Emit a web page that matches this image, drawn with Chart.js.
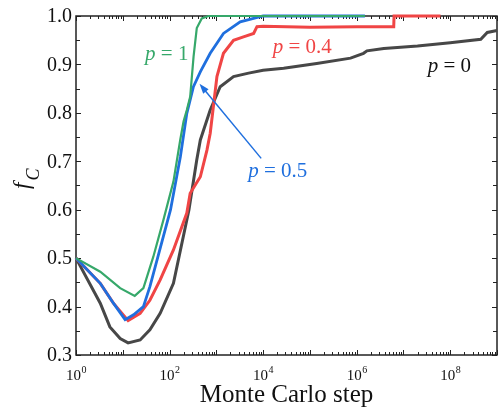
<!DOCTYPE html>
<html>
<head>
<meta charset="utf-8">
<script src="https://cdn.jsdelivr.net/npm/chart.js@4.4.1/dist/chart.umd.min.js"></script>
<style>
  body { margin: 0; background: #fff; }
  #wrap { width: 499px; height: 409px; }
</style>
</head>
<body>
<div id="wrap"><canvas id="fc-chart"></canvas></div>
<script>
// values (x = Monte Carlo step, y = f_C)
const greenSteps = [1, 3.3, 8.8, 18, 27.6, 45, 74, 121, 169, 199, 234, 276, 326, 382, 488, 680, 1.5e6];
const greenFc    = [0.5, 0.472, 0.438, 0.422, 0.438, 0.503, 0.579, 0.658, 0.744, 0.782, 0.806, 0.833, 0.916, 0.975, 0.995, 1.0, 1.0];

const blueSteps = [1, 3.3, 6.3, 11.2, 17, 27.6, 38, 105, 170, 234, 324, 457, 740, 1420, 3240, 1e4, 1.5e6];
const blueFc    = [0.5, 0.448, 0.407, 0.373, 0.383, 0.40, 0.441, 0.60, 0.709, 0.799, 0.854, 0.885, 0.923, 0.964, 0.988, 1.0, 1.0];

const redSteps = [1, 3.3, 6.3, 13, 23.5, 38, 63, 121, 234, 276, 455, 630, 740, 1030, 1420, 2330, 3800, 6270, 7400, 1e4, 1e5, 1e6, 6.2e6, 6.3e6, 6.2e7];
const redFc    = [0.5, 0.448, 0.407, 0.371, 0.386, 0.413, 0.455, 0.517, 0.593, 0.634, 0.668, 0.723, 0.758, 0.875, 0.923, 0.95, 0.957, 0.964, 0.978, 0.979, 0.977, 0.978, 0.978, 1.0, 1.0];

const blackSteps = [1, 3.3, 5.3, 8.8, 13, 23.5, 38, 63, 121, 260, 382, 455, 740, 1210, 2330, 4900, 1e4, 2.75e4, 1.4e5, 7.4e5, 1.4e6, 1.66e6, 3.8e6, 2e7, 1e8, 4.5e8, 6.2e8, 1e9];
const blackFc    = [0.5, 0.407, 0.358, 0.334, 0.325, 0.331, 0.352, 0.386, 0.448, 0.6, 0.703, 0.744, 0.806, 0.854, 0.875, 0.882, 0.888, 0.892, 0.902, 0.913, 0.923, 0.928, 0.933, 0.938, 0.945, 0.952, 0.966, 0.97];

const xLabelExponents = [0, 2, 4, 6, 8];
const yTickValues = [0.3, 0.4, 0.5, 0.6, 0.7, 0.8, 0.9, 1.0];

function pts(xs, ys) {
  return xs.map((v, i) => ({ x: v, y: ys[i] }));
}

const SERIF = '"Liberation Serif", "Times New Roman", serif';

function pLabel(ctx, x, y, rest, color) {
  ctx.fillStyle = color;
  ctx.textAlign = 'left';
  ctx.textBaseline = 'alphabetic';
  ctx.font = 'italic 21px ' + SERIF;
  ctx.fillText('p', x, y);
  const w = ctx.measureText('p').width;
  ctx.font = '21px ' + SERIF;
  ctx.fillText(' = ' + rest, x + w, y);
}

const axesPlugin = {
  id: 'axesPlugin',
  // frame and inward ticks go under the curves
  beforeDatasetsDraw(chart) {
    const { ctx, chartArea: a, scales: { x, y } } = chart;
    ctx.save();
    ctx.strokeStyle = '#222';
    ctx.lineWidth = 1.5;
    ctx.strokeRect(a.left, a.top, a.right - a.left, a.bottom - a.top);

    ctx.lineWidth = 1;
    ctx.beginPath();
    for (let e = 0; e <= 9; e++) {
      for (let m = 1; m <= 9; m++) {
        const v = m * Math.pow(10, e);
        if (v > x.max * 1.0001) break;
        const px = Math.round(x.getPixelForValue(v)) + 0.5;
        const len = m === 1 ? 5 : 3;
        ctx.moveTo(px, a.bottom); ctx.lineTo(px, a.bottom - len);
        ctx.moveTo(px, a.top); ctx.lineTo(px, a.top + len);
      }
    }
    for (let v = 0.3; v <= 1.0001; v += 0.05) {
      const py = Math.round(y.getPixelForValue(v)) + 0.5;
      const major = Math.abs(v * 10 - Math.round(v * 10)) < 1e-6;
      const len = major ? 5 : 4;
      ctx.moveTo(a.left, py); ctx.lineTo(a.left + len, py);
      ctx.moveTo(a.right, py); ctx.lineTo(a.right - len, py);
    }
    ctx.stroke();
    ctx.restore();
  },
  afterDatasetsDraw(chart) {
    const { ctx, chartArea: a, scales: { x, y } } = chart;
    ctx.save();

    // y tick labels
    ctx.fillStyle = '#111';
    ctx.font = '20px ' + SERIF;
    ctx.textAlign = 'right';
    ctx.textBaseline = 'middle';
    yTickValues.forEach(v => ctx.fillText(v.toFixed(1), a.left - 4, y.getPixelForValue(v) + 1));

    // x tick labels 10^n
    ctx.textBaseline = 'alphabetic';
    ctx.textAlign = 'left';
    xLabelExponents.forEach(n => {
      const px = x.getPixelForValue(Math.pow(10, n));
      ctx.font = '15px ' + SERIF;
      const wb = ctx.measureText('10').width;
      ctx.font = '10px ' + SERIF;
      const ws = ctx.measureText(String(n)).width;
      const x0 = px - (wb + ws) / 2;
      ctx.font = '15px ' + SERIF;
      ctx.fillText('10', x0, a.bottom + 25);
      ctx.font = '10px ' + SERIF;
      ctx.fillText(String(n), x0 + wb + 0.5, a.bottom + 18);
    });

    // axis titles
    ctx.font = '25px ' + SERIF;
    ctx.textAlign = 'center';
    ctx.fillText('Monte Carlo step', (a.left + a.right) / 2, a.bottom + 47);

    ctx.save();
    ctx.translate(29, 189);
    ctx.rotate(-Math.PI / 2);
    ctx.textAlign = 'left';
    ctx.font = 'italic 23px ' + SERIF;
    ctx.fillText('f', 0, 0);
    const fw = ctx.measureText('f').width;
    ctx.font = 'italic 18px ' + SERIF;
    ctx.fillText('C', fw + 2, 10);
    ctx.restore();

    // curve labels, anchored in data coordinates
    pLabel(ctx, x.getPixelForValue(30), y.getPixelForValue(0.909), '1', '#36a86a');
    pLabel(ctx, x.getPixelForValue(1.6e4), y.getPixelForValue(0.924), '0.4', '#f04545');
    pLabel(ctx, x.getPixelForValue(3.3e7), y.getPixelForValue(0.885), '0', '#111');
    pLabel(ctx, x.getPixelForValue(4800), y.getPixelForValue(0.668), '0.5', '#1f6fde');

    // arrow from the p = 0.5 label to its curve
    const tx = x.getPixelForValue(9100), ty = y.getPixelForValue(0.706);
    const hx = x.getPixelForValue(437), hy = y.getPixelForValue(0.860);
    const ang = Math.atan2(hy - ty, hx - tx);
    ctx.strokeStyle = '#1f6fde';
    ctx.fillStyle = '#1f6fde';
    ctx.lineWidth = 1.5;
    ctx.beginPath();
    ctx.moveTo(tx, ty);
    ctx.lineTo(hx - 7 * Math.cos(ang), hy - 7 * Math.sin(ang));
    ctx.stroke();
    ctx.beginPath();
    ctx.moveTo(hx, hy);
    ctx.lineTo(hx - 10 * Math.cos(ang) + 3.5 * Math.sin(ang), hy - 10 * Math.sin(ang) - 3.5 * Math.cos(ang));
    ctx.lineTo(hx - 10 * Math.cos(ang) - 3.5 * Math.sin(ang), hy - 10 * Math.sin(ang) + 3.5 * Math.cos(ang));
    ctx.closePath();
    ctx.fill();
    ctx.restore();
  }
};

new Chart(document.getElementById('fc-chart'), {
  type: 'scatter',
  data: {
    datasets: [
      { label: 'p = 1', data: pts(greenSteps, greenFc), borderColor: '#36a86a', borderWidth: 2.2, order: 0 },
      { label: 'p = 0.5', data: pts(blueSteps, blueFc), borderColor: '#1f6fde', borderWidth: 2.8, order: 1 },
      { label: 'p = 0.4', data: pts(redSteps, redFc), borderColor: '#f04545', borderWidth: 3, order: 2 },
      { label: 'p = 0', data: pts(blackSteps, blackFc), borderColor: '#474747', borderWidth: 3, order: 3 }
    ].map(d => Object.assign(d, { showLine: true, pointRadius: 0, tension: 0, fill: false, clip: 2 }))
  },
  options: {
    responsive: true,
    maintainAspectRatio: false,
    animation: false,
    layout: { padding: { left: 76, top: 16, right: 2, bottom: 54 } },
    plugins: { legend: { display: false }, tooltip: { enabled: false } },
    scales: {
      x: { type: 'logarithmic', min: 1, max: 1e9, display: false },
      y: { min: 0.3, max: 1.0, display: false }
    }
  },
  plugins: [axesPlugin]
});
</script>
</body>
</html>
